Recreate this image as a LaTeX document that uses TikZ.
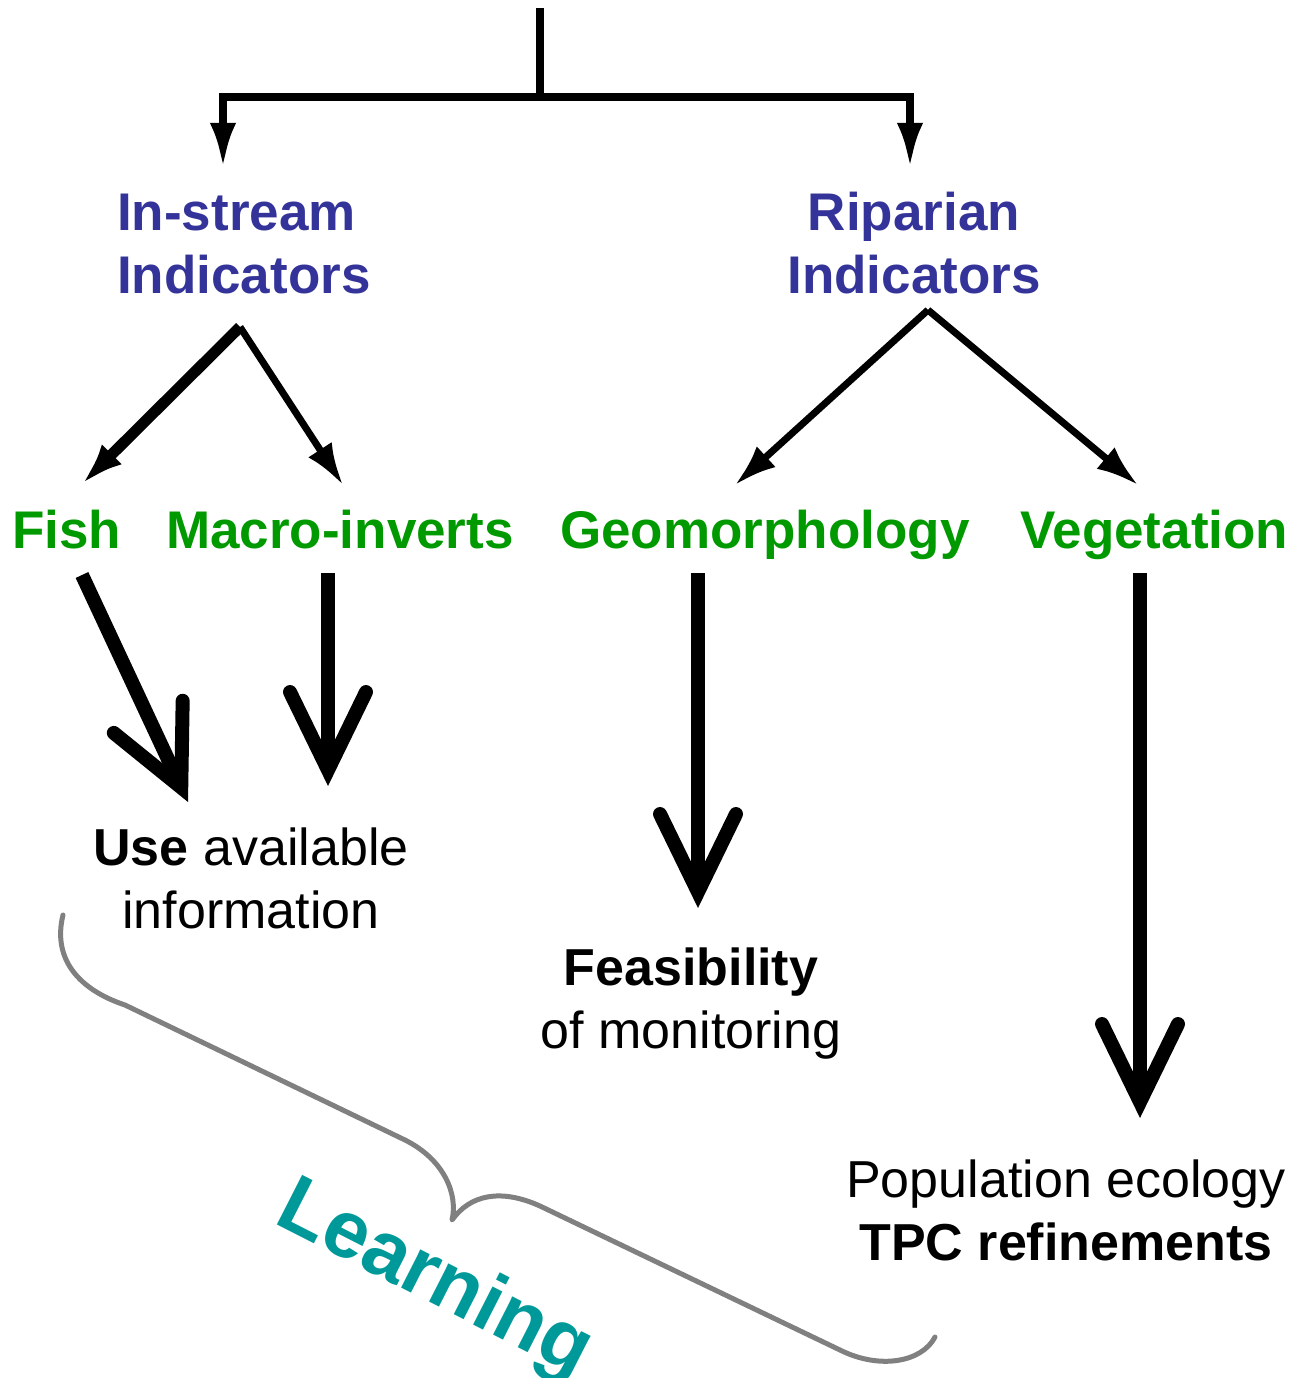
\documentclass[tikz,border=0pt]{standalone}
\usepackage{fontspec}
\setmainfont{Liberation Sans}
\usetikzlibrary{arrows.meta}
\definecolor{indblue}{RGB}{51,51,153}
\definecolor{grpgreen}{RGB}{0,153,0}
\definecolor{learnteal}{RGB}{0,153,153}
\definecolor{bracegray}{RGB}{128,128,128}
\tikzset{
  txt/.style={inner sep=0pt, font=\fontsize{52}{63}\selectfont},
  indic/.style={txt, font=\bfseries\fontsize{53}{63}\selectfont, text=indblue},
  group/.style={txt, font=\bfseries\fontsize{53}{63}\selectfont, text=grpgreen, anchor=base west},
  result/.style={txt, align=center, anchor=base},
  learn/.style={inner sep=0pt, font=\bfseries\fontsize{81}{90}\selectfont, text=learnteal, anchor=base west, rotate=-27},
  feed/.style={line width=8pt, -{Latex[length=45pt,width=26pt]}},
  branch/.style={line width=7pt, -{Latex[length=42pt,width=28pt]}},
  bigarrow/.style={line width=14pt, -{Straight Barb[length=78pt,width=76pt,line cap=round,line join=miter]}},
  brace/.style={line width=5pt, draw=bracegray, line cap=round, line join=round}
}
\begin{document}
\begin{tikzpicture}[x=1pt,y=-1pt]
\useasboundingbox (0,0) rectangle (1310,1378);
% indicator types (base = last line)
\node[indic, anchor=base west, align=left] (instream) at (117,293) {In-stream\\Indicators};
\node[indic, anchor=base, align=center] (riparian) at (914,293) {Riparian\\Indicators};
% indicator groups
\node[group] (fish) at (12,548) {Fish};
\node[group] (macro) at (166,548) {Macro-inverts};
\node[group] (geomorph) at (560,548) {Geomorphology};
\node[group] (veg) at (1020,548) {Vegetation};
% outcomes
\node[result] (useinfo) at (251,928) {\textbf{Use} available\\information};
\node[result] (feasib) at (691,1048) {\textbf{Feasibility}\\of monitoring};
\node[result] (popecol) at (1066,1260) {Population ecology\\\textbf{TPC refinements}};
\node[learn] (learning) at (272,1222) {Learning};

% connection points
\coordinate (top) at (540,8);
\coordinate (split) at (540,97);
\coordinate (isin) at (223,168);
\coordinate (ripin) at (910,168);
\coordinate (isfork) at (240,327);
\coordinate (ripfork) at (928,310);
\coordinate (fishin) at (82,484);
\coordinate (macroin) at (343,485);
\coordinate (geoin) at (735,485);
\coordinate (vegin) at (1138,485);
\coordinate (fishout) at (82,575);
\coordinate (macroout) at (328,573);
\coordinate (geoout) at (698,573);
\coordinate (vegout) at (1140,573);
\coordinate (fishres) at (188,802);
\coordinate (macrores) at (328,786);
\coordinate (georres) at (698,908);
\coordinate (vegres) at (1140,1118);

\draw[line width=8pt] (top) -- (split);
\draw[feed] (split) -| (isin);
\draw[feed] (split) -| (ripin);

\draw[branch, line width=11pt] (isfork) -- (fishin);
\draw[branch] (isfork) -- (macroin);
\draw[branch] (ripfork) -- (geoin);
\draw[branch] (ripfork) -- (vegin);

\draw[bigarrow] (fishout) -- (fishres);
\draw[bigarrow] (macroout) -- (macrores);
\draw[bigarrow] (geoout) -- (georres);
\draw[bigarrow] (vegout) -- (vegres);

% learning brace
\draw[brace] (63,915) .. controls (52,960) and (80,990) .. (125,1005) -- (405,1140)
  .. controls (445,1160) and (458,1195) .. (452,1220)
  .. controls (470,1195) and (500,1188) .. (540,1206) -- (840,1350)
  .. controls (880,1370) and (922,1362) .. (935,1337);
\end{tikzpicture}
\end{document}
